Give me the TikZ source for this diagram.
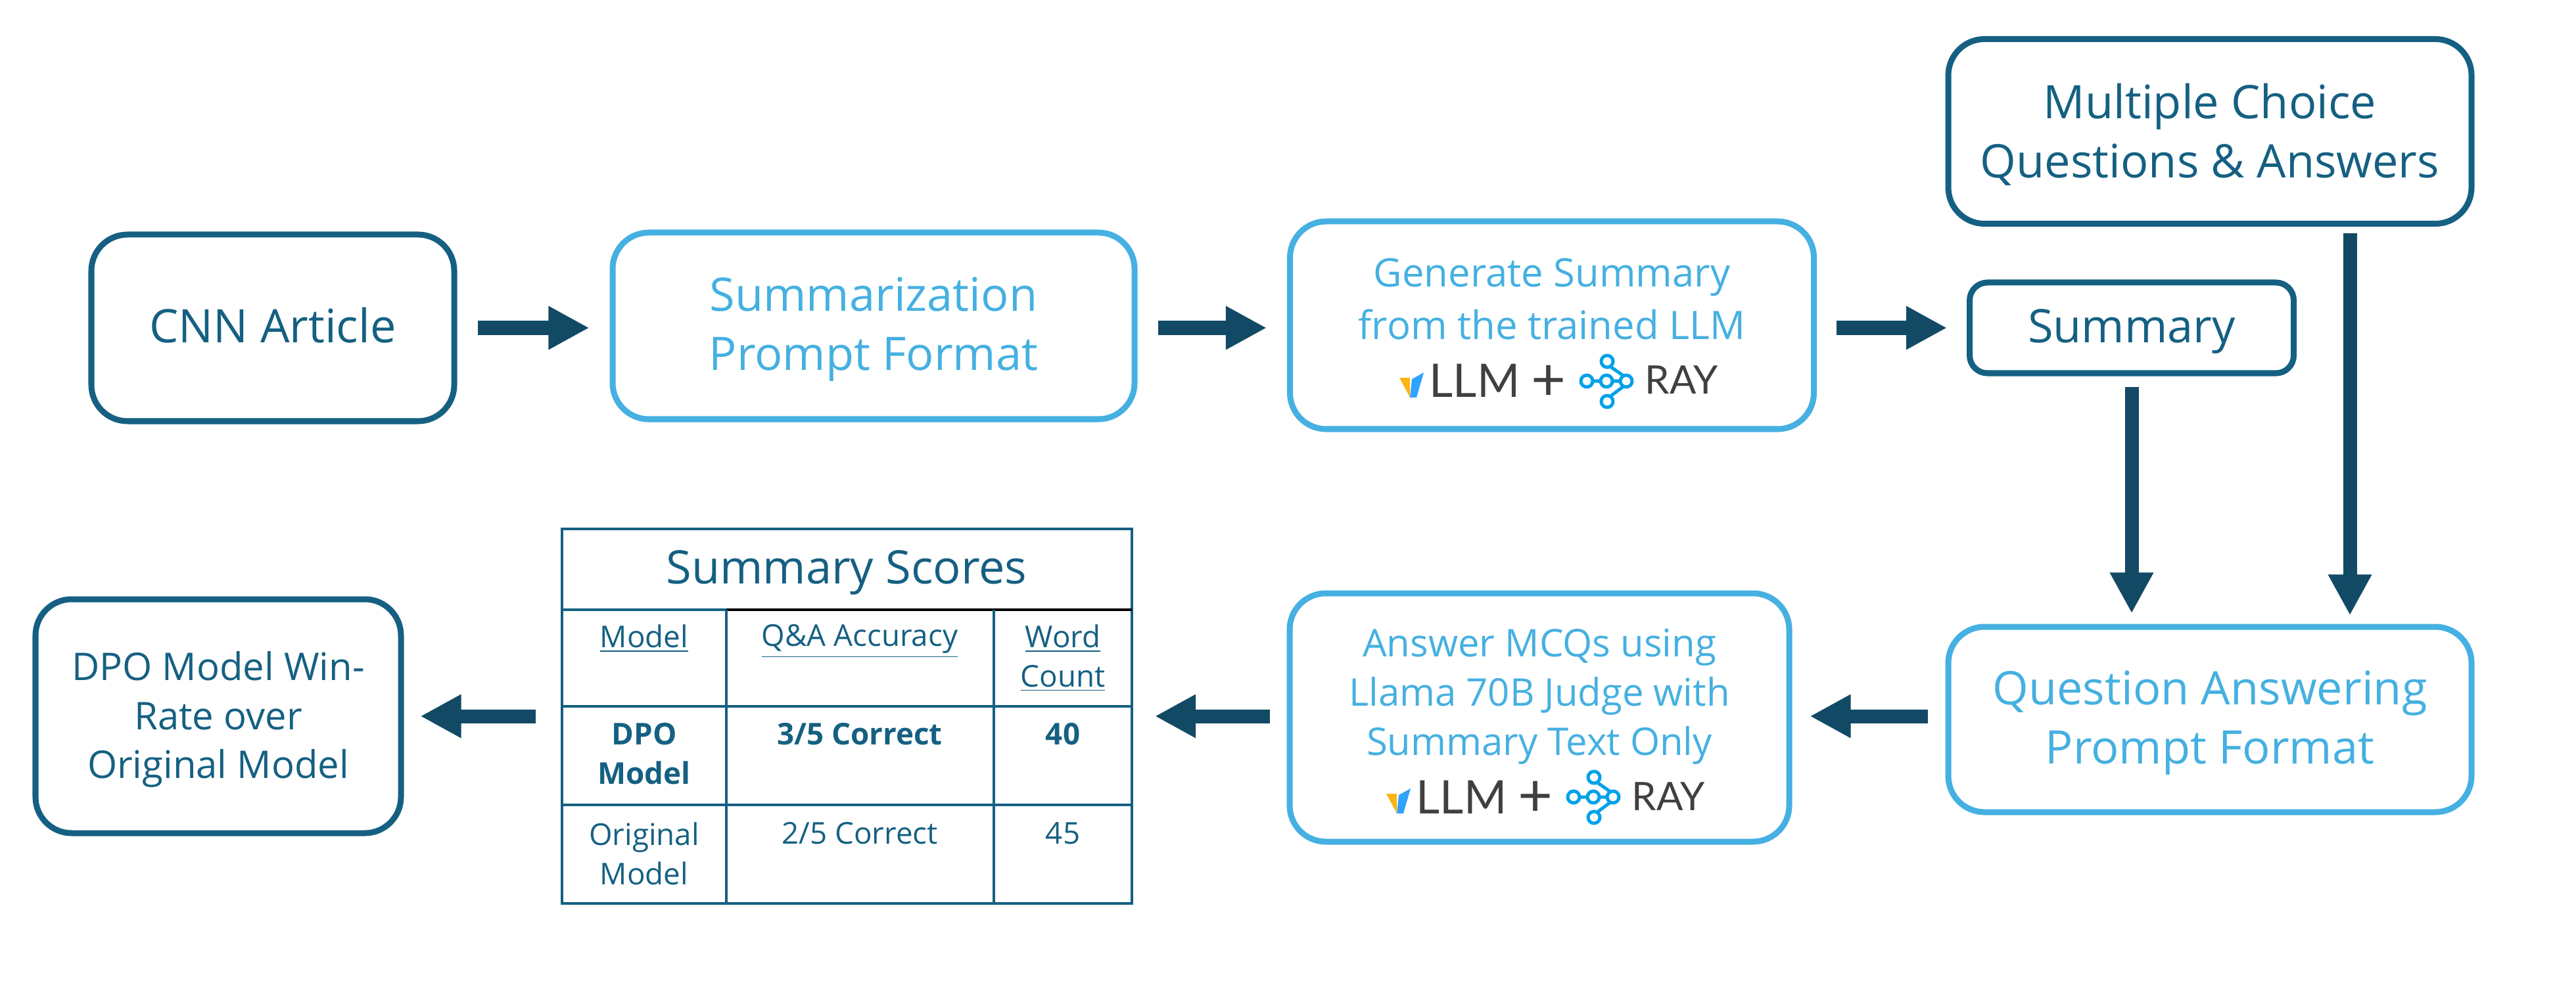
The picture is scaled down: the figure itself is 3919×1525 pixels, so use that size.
\documentclass[tikz,border=0pt]{standalone}
\usepackage{fontspec}
\setmainfont{Open Sans}
\newfontfamily\logofont{Lato}
\usetikzlibrary{arrows.meta}
\definecolor{darkteal}{HTML}{156082}
\definecolor{lightblue}{HTML}{45B0E1}
\definecolor{arrowteal}{HTML}{124A66}
\definecolor{logogrey}{HTML}{404040}
\definecolor{rayblue}{HTML}{00A2E9}
\definecolor{vyellow}{HTML}{FDB515}
\definecolor{vblue}{HTML}{30A2FF}
\tikzset{
  darkbox/.style={draw=darkteal, line width=0.09cm, rounded corners=0.55cm, inner sep=0pt},
  lightbox/.style={draw=lightblue, line width=0.09cm, rounded corners=0.55cm, inner sep=0pt},
  boxsize/.style 2 args={minimum width=#1*0.01cm, minimum height=#2*0.01cm},
  bigtext/.style={font=\fontsize{20}{25.6}\selectfont},
  midtext/.style={font=\fontsize{17}{22.8}\selectfont},
  cardtext/.style={text=lightblue, align=center, inner sep=0pt},
  darktext/.style={text=darkteal, align=center, inner sep=0pt},
  flowarrow/.style={draw=arrowteal, line width=0.21cm, -{Triangle[length=0.62cm,width=0.62cm]}, shorten <=#1*0.01cm, shorten >=#1*0.01cm},
  flowarrow/.default=31,
  tableline/.style={draw=darkteal, line width=0.04cm},
  cell/.style={text=darkteal, align=center, anchor=north, inner sep=0pt, font=\fontsize{13}{17}\selectfont},
  headcell/.style={cell},
  boldcell/.style={cell, font=\fontsize{13}{17}\bfseries\selectfont},
  logo/.pic={
    \fill [vyellow] (-315,-5) -- (-299,-5) -- (-299,25) -- cycle;
    \fill [vblue] (-299,25) -- (-296,-3) -- (-278,-13) -- (-289,25) -- cycle;
    \node [text=logogrey, anchor=base west, inner sep=0pt, font=\logofont\fontsize{20}{20}\selectfont] (-llm) at (-270,25) {LLM};
    \node [text=logogrey, inner sep=0pt, font=\logofont\fontsize{26}{26}\selectfont] (-plus) at (-88,3) {+};
    \node [text=logogrey, anchor=base west, inner sep=0pt, font=\logofont\fontsize{17}{17}\selectfont] (-ray) at (58,20) {RAY};
    \draw [rayblue, line width=0.05cm] (-30,0) circle (9) (0,0) circle (9) (30,0) circle (9) (1,-30) circle (9) (1,31) circle (9);
    \draw [rayblue, line width=0.05cm] (-21,0) -- (-9,0) (9,0) -- (21,0) (6,-22) -- (26,-8) (6,23) -- (26,8);
  }
}
\begin{document}
\begin{tikzpicture}[x=0.01cm,y=-0.01cm]
\useasboundingbox (0,0) rectangle (3919,1525);
% top row
\node [darkbox, boxsize={552}{284}] (cnn) at (415,499) {};
\node [darktext, bigtext] (cnntext) at (415,495) {CNN Article};
\node [lightbox, boxsize={794}{284}] (sumprompt) at (1329,496) {};
\node [cardtext, bigtext] (sumprompttext) at (1329,501) {Summarization\\Prompt Format};
\node [lightbox, boxsize={797}{316}] (generate) at (2361,495) {};
\node [cardtext, midtext] (generatetext) at (2361,455) {Generate Summary\\from the trained LLM};
\pic (genlogo) at (2444,580) {logo};
\node [darkbox, rounded corners=0.27cm, boxsize={493}{138}] (summary) at (3243,499) {};
\node [darktext, bigtext] (summarytext) at (3243,504) {Summary};
\node [darkbox, boxsize={796}{281}] (mcq) at (3362,200) {};
\node [darktext, bigtext] (mcqtext) at (3362,205) {Multiple Choice\\Questions \& Answers};
\coordinate (mcqout) at (3575,342);
% bottom row
\node [lightbox, boxsize={796}{282}] (qaprompt) at (3362,1095) {};
\node [cardtext, bigtext] (qaprompttext) at (3362,1100) {Question Answering\\Prompt Format};
\node [lightbox, boxsize={760}{378}] (answer) at (2342,1092) {};
\node [cardtext, font=\fontsize{16.5}{21.3}\selectfont] (answertext) at (2342,1060) {Answer MCQs using\\Llama 70B Judge with\\Summary Text Only};
\pic (anslogo) at (2424,1213) {logo};
\node [darkbox, boxsize={556}{356}] (winrate) at (332,1090) {};
\node [darktext, font=\fontsize{16.5}{21.3}\selectfont] (winratetext) at (332,1095) {DPO Model Win-\\Rate over\\Original Model};
% score table
\coordinate (tabletl) at (855,805);
\coordinate (tablebr) at (1722,1375);
\draw [tableline] (tabletl) rectangle (tablebr);
\draw [tableline] (855,928) -- (1105,928);
\draw [black, line width=0.04cm] (1105,928) -- (1722,928);
\draw [tableline] (855,1075) -- (1722,1075);
\draw [tableline] (855,1225) -- (1722,1225);
\draw [tableline] (1105,928) -- (1105,1375);
\draw [tableline] (1512,928) -- (1512,1375);
\node [cell, anchor=center, font=\fontsize{20}{24}\selectfont] (tabletitle) at (1288,871) {Summary Scores};
\node [headcell] (headmodel) at (980,950) {\underline{Model}};
\node [headcell] (headqa) at (1308,950) {\underline{Q\&A Accuracy}};
\node [headcell] (headcount) at (1617,950) {\underline{Word}\\\underline{Count}};
\node [boldcell] (dpomodel) at (980,1100) {DPO\\Model};
\node [boldcell] (dposcore) at (1308,1100) {3/5 Correct};
\node [boldcell] (dpocount) at (1617,1100) {40};
\node [cell] (origmodel) at (980,1251) {Original\\Model};
\node [cell] (origscore) at (1308,1251) {2/5 Correct};
\node [cell] (origcount) at (1617,1251) {45};
% arrows
\draw [flowarrow] (cnn.east) -- (cnn.east -| sumprompt.west);
\draw [flowarrow] (cnn.east -| sumprompt.east) -- (cnn.east -| generate.west);
\draw [flowarrow=30] (cnn.east -| generate.east) -- (cnn.east -| summary.west);
\draw [flowarrow=16] (summary.south) -- (summary.south |- qaprompt.north);
\draw [flowarrow=13] (mcqout) -- (mcqout |- qaprompt.north);
\draw [flowarrow=27] (qaprompt.west |- 0,1090) -- (answer.east |- 0,1090);
\draw [flowarrow=26, shorten >=0.35cm] (answer.west |- 0,1090) -- (tablebr |- 0,1090);
\draw [flowarrow=25, shorten <=0.40cm] (tabletl |- 0,1090) -- (winrate.east |- 0,1090);
\end{tikzpicture}
\end{document}
